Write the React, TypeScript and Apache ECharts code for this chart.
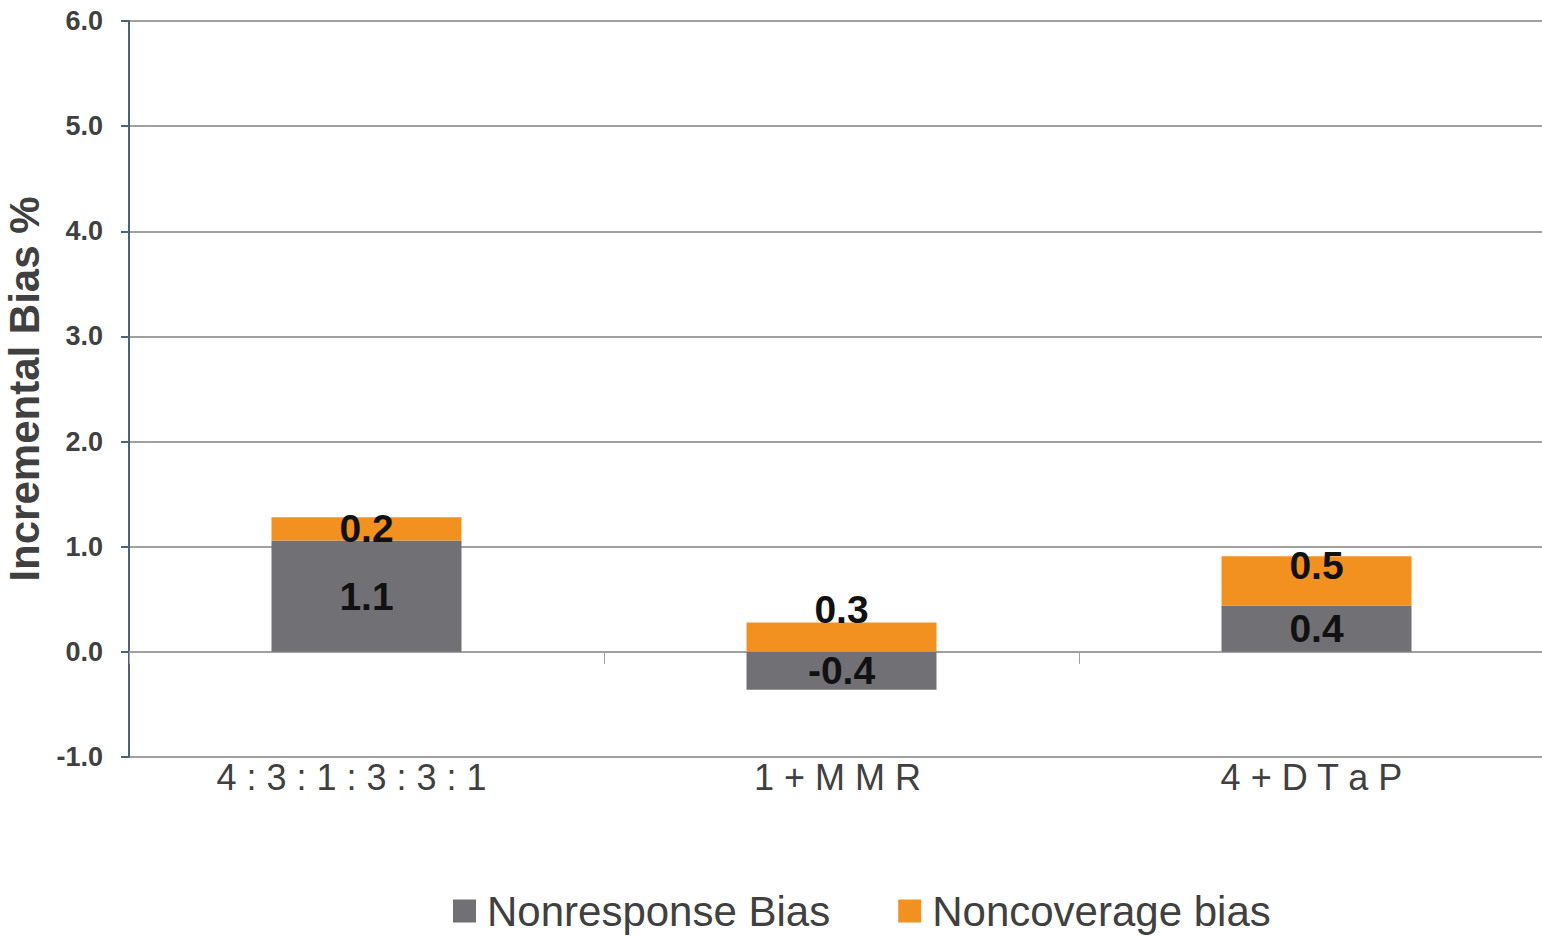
import React, { useEffect, useRef } from "react";
import * as echarts from "echarts";

const categories = ["4 : 3 : 1 : 3 : 3 : 1", "1 + M M R", "4 + D T a P"];
const nonresponse = [1.06, -0.36, 0.44];
const noncoverage = [0.22, 0.28, 0.47];
const noncoverageLabelOffsets = [0, -28, -15];
const categoryLabelRightPad = [30, 8, 10];

export default function App() {
  const ref = useRef<HTMLDivElement>(null);
  useEffect(() => {
    const chart = echarts.init(ref.current!, null, { renderer: "svg" });
    const font = "'Liberation Sans', Arial, sans-serif";
    const dataLabel = {
      show: true,
      position: "inside",
      fontSize: 39,
      fontWeight: "bold",
      color: "#111111",
      fontFamily: font,
      formatter: (p: any) => Number(p.value).toFixed(1),
    };
    chart.setOption({
      animation: false,
      textStyle: { fontFamily: font },
      grid: { left: 129, top: 21, width: 1425, height: 736, outerBoundsMode: "none", containLabel: false },
      legend: {
        left: 453,
        top: 889,
        padding: 0,
        itemWidth: 23,
        itemHeight: 23,
        itemGap: 68,
        icon: "rect",
        textStyle: { fontSize: 42, lineHeight: 44, color: "#404040", fontFamily: font, padding: [0, 0, 0, 6] },
        data: ["Nonresponse Bias", "Noncoverage bias"],
      },
      xAxis: [
        {
          type: "category",
          data: categories.map((c, i) => ({
            value: c,
            textStyle: { padding: [0, categoryLabelRightPad[i], 0, 0] },
          })),
          position: "bottom",
          axisLine: { show: false, onZero: false },
          axisTick: { show: false },
          axisLabel: { fontSize: 36, color: "#404040", margin: 2, fontFamily: font },
        },
        {
          type: "category",
          data: categories,
          position: "bottom",
          axisLine: { show: true, onZero: true, lineStyle: { color: "#a0a0a0", width: 2 } },
          axisTick: { show: true, inside: false, length: 12, lineStyle: { color: "#a0a0a0", width: 1 } },
          axisLabel: { show: false },
        },
      ],
      yAxis: {
        type: "value",
        min: -1,
        max: 6,
        interval: 1,
        name: "Incremental Bias %",
        nameLocation: "middle",
        nameGap: 80,
        nameTextStyle: { fontSize: 42, fontWeight: "bold", color: "#404040", fontFamily: font },
        axisLine: { show: true, lineStyle: { color: "#4d6272", width: 2 } },
        axisTick: { show: true, length: 8, lineStyle: { color: "#4d6272", width: 2 } },
        axisLabel: {
          fontSize: 27,
          fontWeight: "bold",
          color: "#404040",
          margin: 26,
          fontFamily: font,
          formatter: (v: number) => v.toFixed(1),
        },
        splitLine: { show: true, lineStyle: { color: "#a0a0a0", width: 2 } },
      },
      series: [
        {
          name: "Nonresponse Bias",
          type: "bar",
          stack: "bias",
          xAxisIndex: 0,
          barWidth: 190,
          itemStyle: { color: "#717075" },
          label: dataLabel,
          data: nonresponse,
        },
        {
          name: "Noncoverage bias",
          type: "bar",
          stack: "bias",
          xAxisIndex: 0,
          barWidth: 190,
          itemStyle: { color: "#F39120" },
          label: dataLabel,
          data: noncoverage.map((v, i) => ({
            value: v,
            label: { offset: [0, noncoverageLabelOffsets[i]] },
          })),
        },
      ],
    });
    return () => chart.dispose();
  }, []);
  return (
    <div
      ref={ref}
      style={{ position: "absolute", left: 0, top: 0, width: 1542, height: 937 }}
    />
  );
}
